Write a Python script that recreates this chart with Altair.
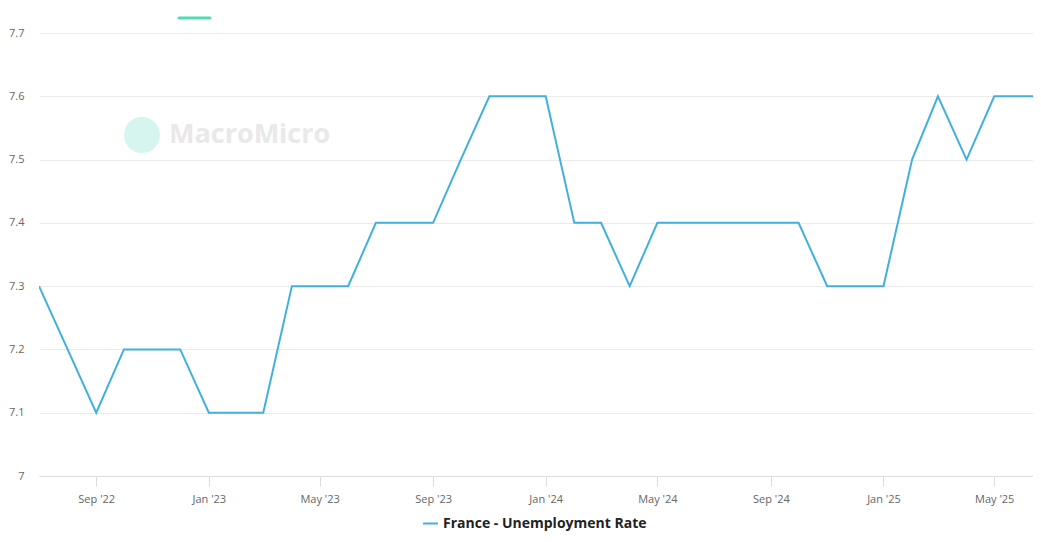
import altair as alt
import pandas as pd

months = pd.date_range("2022-07-01", "2025-07-01", freq="MS").strftime("%Y-%m-%d").tolist()
rates = [7.3, 7.2, 7.1, 7.2, 7.2, 7.2, 7.1, 7.1, 7.1, 7.3, 7.3, 7.3,
         7.4, 7.4, 7.4, 7.5, 7.6, 7.6, 7.6, 7.4, 7.4, 7.3, 7.4, 7.4,
         7.4, 7.4, 7.4, 7.4, 7.3, 7.3, 7.3, 7.5, 7.6, 7.5, 7.6, 7.6, 7.6]
series = ["France - Unemployment Rate"] * len(months)
tick_dates = ["2022-09-01", "2023-01-01", "2023-05-01", "2023-09-01", "2024-01-01",
              "2024-05-01", "2024-09-01", "2025-01-01", "2025-05-01"]
y_ticks = [7.0, 7.1, 7.2, 7.3, 7.4, 7.5, 7.6, 7.7]

df = pd.DataFrame({"date": months, "rate": rates, "series": series})
tick_ms = [int(pd.Timestamp(d, tz="UTC").timestamp() * 1000) for d in tick_dates]
dom = [int(pd.Timestamp(d, tz="UTC").timestamp() * 1000) for d in ["2022-07-01", "2025-06-12"]]

FONT = "Open Sans"
W, H = 994, 443

line = alt.Chart(df).mark_line(strokeWidth=2, clip=True).encode(
    x=alt.X("date:T", scale=alt.Scale(type="utc", domain=dom, nice=False),
            axis=alt.Axis(values=tick_ms, labelExpr="utcFormat(datum.value, \"%b '%y\")", title=None,
                          grid=False, domainColor="#dcdcdc", tickColor="#dcdcdc", tickSize=10,
                          labelPadding=7, labelColor="#666666", labelFontSize=11, labelFont=FONT)),
    y=alt.Y("rate:Q", scale=alt.Scale(domain=[7.0, 7.7], nice=False, zero=False),
            axis=alt.Axis(values=y_ticks, format=".1~f", title=None, domain=False, ticks=False,
                          gridColor="#ebebeb", labelPadding=15, labelColor="#666666",
                          labelFontSize=11, labelFont=FONT)),
    color=alt.Color("series:N",
                    scale=alt.Scale(domain=["France - Unemployment Rate"], range=["#41b0dd"]),
                    legend=alt.Legend(title=None, orient="none", legendX=383, legendY=482,
                                      direction="horizontal", symbolType="stroke",
                                      symbolStrokeWidth=2, symbolSize=220, labelLimit=400,
                                      labelFont=FONT, labelFontSize=14, labelFontWeight="bold",
                                      labelColor="#222222")),
)

wm_circle = alt.Chart(pd.DataFrame({"k": [0]})).mark_point(
    shape="circle", filled=True, size=1300, color="#d5f5ee", opacity=1
).encode(x=alt.value(103), y=alt.value(102))

wm_text = alt.Chart(pd.DataFrame({"k": [0]})).mark_text(
    text="MacroMicro", font=FONT, fontSize=27, fontWeight="bold", color="#e9e9e9",
    align="left", baseline="middle"
).encode(x=alt.value(130), y=alt.value(102))

green = alt.Chart(pd.DataFrame({"k": [0]})).mark_rule(
    color="#4edbb6", strokeWidth=3, strokeCap="round"
).encode(x=alt.value(140), x2=alt.value(171), y=alt.value(-15))

chart = alt.layer(wm_circle, wm_text, line, green).properties(
    width=W, height=H,
    background="white",
    autosize=alt.AutoSizeParams(type="none"),
    padding={"left": 31, "top": 25, "right": 0, "bottom": 57},
).configure_view(strokeWidth=0, stroke="transparent")

chart.save("out.html", embed_options={"renderer": "svg", "actions": False})
